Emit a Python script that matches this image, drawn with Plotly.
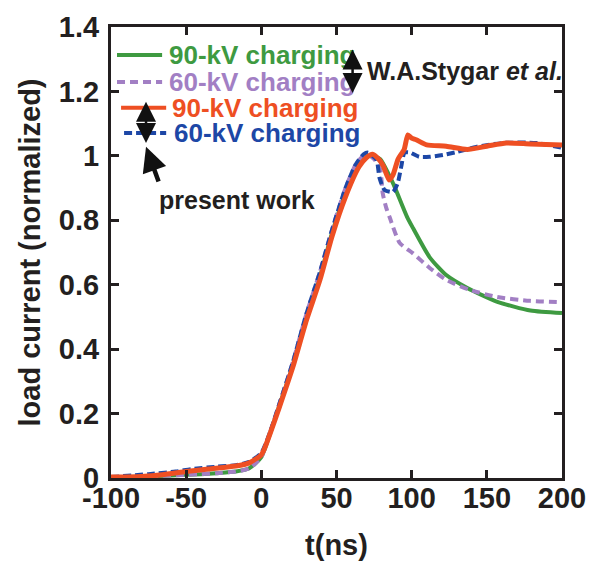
import plotly.graph_objects as go

# ---------------- data ----------------
# Present work, 90-kV charging (red, solid)
t_red = [-100, -80, -66, -50, -35, -17, -8, 0, 2, 6, 12, 21, 30, 39, 47, 56, 65, 70, 74,
         78, 81, 85, 87.5, 91, 95, 97.5, 100, 103, 110, 123, 137, 150, 163, 179, 200]
v_red = [0.003, 0.005, 0.01, 0.02, 0.028, 0.037, 0.047, 0.072, 0.09, 0.14, 0.22, 0.345, 0.49,
         0.615, 0.75, 0.873, 0.966, 0.995, 1.005, 0.99, 0.97, 0.925, 0.94, 0.99, 1.02, 1.065,
         1.055, 1.05, 1.034, 1.03, 1.02, 1.03, 1.04, 1.037, 1.034]

# Present work, 60-kV charging (blue, dashed)
t_blue = [-100, -75, -57, -46, -30, -17, -8, 0, 6, 12, 21, 30, 39, 47, 56, 63, 68, 71,
          74, 76.7, 78.7, 82, 87.5, 90.7, 93, 95.3, 99, 105, 112, 121, 130, 143, 161, 183, 200]
v_blue = [0.003, 0.012, 0.02, 0.028, 0.035, 0.04, 0.05, 0.078, 0.145, 0.23, 0.36, 0.51, 0.64,
          0.77, 0.9, 0.975, 1.005, 1.01, 1.0, 0.987, 0.93, 0.894, 0.888, 0.915, 0.965, 1.01,
          1.01, 0.997, 0.997, 1.003, 1.012, 1.028, 1.04, 1.04, 1.025]

# W.A. Stygar et al., 90-kV charging (green, solid)
t_green = [-100, -80, -60, -40, -30, -17, -8, 0, 6, 12, 21, 30, 39, 47, 56, 65, 70, 73,
           79, 85, 89, 97, 101, 112, 123, 137, 157, 179, 200]
v_green = [0.002, 0.004, 0.008, 0.012, 0.015, 0.02, 0.03, 0.065, 0.14, 0.225, 0.35, 0.5,
           0.625, 0.76, 0.885, 0.975, 0.998, 1.0, 0.99, 0.94, 0.9, 0.81, 0.775, 0.685,
           0.63, 0.59, 0.547, 0.52, 0.512]

# W.A. Stygar et al., 60-kV charging (purple, dashed)
t_purple = [-100, -80, -60, -40, -30, -17, -8, 0, 6, 12, 21, 30, 39, 47, 56, 63, 68, 71,
            75, 79, 80.7, 83, 85.3, 92, 100.7, 112, 123, 138.7, 156.7, 178.7, 200]
v_purple = [0.002, 0.004, 0.008, 0.012, 0.015, 0.02, 0.03, 0.066, 0.145, 0.23, 0.36, 0.51,
            0.64, 0.77, 0.9, 0.975, 1.0, 1.003, 0.99, 0.96, 0.885, 0.84, 0.81, 0.73, 0.698,
            0.652, 0.615, 0.584, 0.562, 0.55, 0.546]

x_ticks = [-100, -50, 0, 50, 100, 150, 200]
x_tick_text = ["-100", "-50", "0", "50", "100", "150", "200"]
y_ticks = [0, 0.2, 0.4, 0.6, 0.8, 1.0, 1.2, 1.4]
y_tick_text = ["0", "0.2", "0.4", "0.6", "0.8", "1", "1.2", "1.4"]

legend_labels = ["90-kV charging", "60-kV charging", "90-kV charging", "60-kV charging"]

GREEN = "#3e9a41"
PURPLE = "#a27fc4"
RED = "#ee4f23"
BLUE = "#1d47a6"
INK = "#231f20"
FONT = "Liberation Sans, Arial, Helvetica, sans-serif"

fig = go.Figure()
fig.add_trace(go.Scatter(x=t_green, y=v_green, mode="lines", line=dict(color=GREEN, width=4, shape="spline", smoothing=0.6), name="W.A.Stygar et al. 90-kV charging"))
fig.add_trace(go.Scatter(x=t_purple, y=v_purple, mode="lines", line=dict(color=PURPLE, width=4, dash="8px,5px", shape="spline", smoothing=0.6), name="W.A.Stygar et al. 60-kV charging"))
fig.add_trace(go.Scatter(x=t_blue, y=v_blue, mode="lines", line=dict(color=BLUE, width=4, dash="8px,4px", shape="spline", smoothing=0.6), name="present work 60-kV charging"))
fig.add_trace(go.Scatter(x=t_red, y=v_red, mode="lines", line=dict(color=RED, width=5, shape="spline", smoothing=0.6), name="present work 90-kV charging"))

# ---- in-plot legend (shapes + text) ----
leg = [
    (-96, -66, 1.313, -62.7, GREEN, None, legend_labels[0]),
    (-96, -66, 1.229, -62.7, PURPLE, "8px,5px", legend_labels[1]),
    (-93.3, -63.3, 1.149, -60.5, RED, None, legend_labels[2]),
    (-91.3, -63.3, 1.071, -59.5, BLUE, "8px,4px", legend_labels[3]),
]
for x0, x1, yv, xt, col, dash, lab in leg:
    fig.add_shape(type="line", xref="x", yref="y", x0=x0, x1=x1, y0=yv, y1=yv,
                  line=dict(color=col, width=4, dash=dash) if dash else dict(color=col, width=4))
    fig.add_annotation(x=xt, y=yv, xref="x", yref="y", text="<b>%s</b>" % lab, showarrow=False,
                       xanchor="left", yanchor="middle", font=dict(family=FONT, size=26, color=col))

fig.add_annotation(x=68.7, y=1.262, xref="x", yref="y", text="<b>W.A.Stygar <i>et al.</i></b>",
                   showarrow=False, xanchor="left", yanchor="middle",
                   font=dict(family=FONT, size=25, color=INK))
fig.add_annotation(x=-16, y=0.863, xref="x", yref="y", text="<b>present work</b>",
                   showarrow=False, xanchor="center", yanchor="middle",
                   font=dict(family=FONT, size=25, color=INK))

# double arrows
for xa, ya0, ya1 in [(60.7, 1.335, 1.195), (-76.7, 1.173, 1.04)]:
    fig.add_annotation(x=xa, y=ya1, ax=xa, ay=ya0, xref="x", yref="y", axref="x", ayref="y",
                       text="", showarrow=True, arrowhead=2, startarrowhead=2,
                       arrowside="end+start", arrowsize=1.6, startarrowsize=1.6,
                       arrowwidth=2.5, arrowcolor="#111111")
# pointer arrow
fig.add_annotation(x=-76.7, y=1.028, ax=-68, ay=0.916, xref="x", yref="y", axref="x", ayref="y",
                   text="", showarrow=True, arrowhead=2, arrowsize=1.1, arrowwidth=4.5,
                   arrowcolor="#111111")

# page body adds an 8px offset, so the figure is drawn slightly smaller
fig.update_layout(
    width=593, height=553,
    margin=dict(l=103, r=39, t=19, b=83),
    paper_bgcolor="white", plot_bgcolor="white",
    showlegend=False,
    font=dict(family=FONT, color=INK),
)
fig.update_xaxes(
    range=[-100, 200], tickvals=x_ticks, ticktext=x_tick_text, ticks="inside", ticklen=8,
    tickwidth=3, tickcolor=INK, showline=True, linewidth=3, linecolor=INK, mirror="ticks",
    showgrid=False, zeroline=False, automargin=False, ticklabelstandoff=-8,
    tickfont=dict(family=FONT, size=29, color=INK, weight="bold"),
    title=dict(text="<b>t(ns)</b>", font=dict(family=FONT, size=29, color=INK), standoff=22),
)
fig.update_yaxes(
    range=[0, 1.4], tickvals=y_ticks, ticktext=y_tick_text, ticks="inside", ticklen=8,
    tickwidth=3, tickcolor=INK, showline=True, linewidth=3, linecolor=INK,
    mirror="ticks", showgrid=False, zeroline=False, automargin=False, ticklabelstandoff=3,
    tickfont=dict(family=FONT, size=29, color=INK, weight="bold"),
    title=dict(text="<b>load current (normalized)</b>", font=dict(family=FONT, size=29, color=INK), standoff=10),
)

fig.write_html("out.html")
